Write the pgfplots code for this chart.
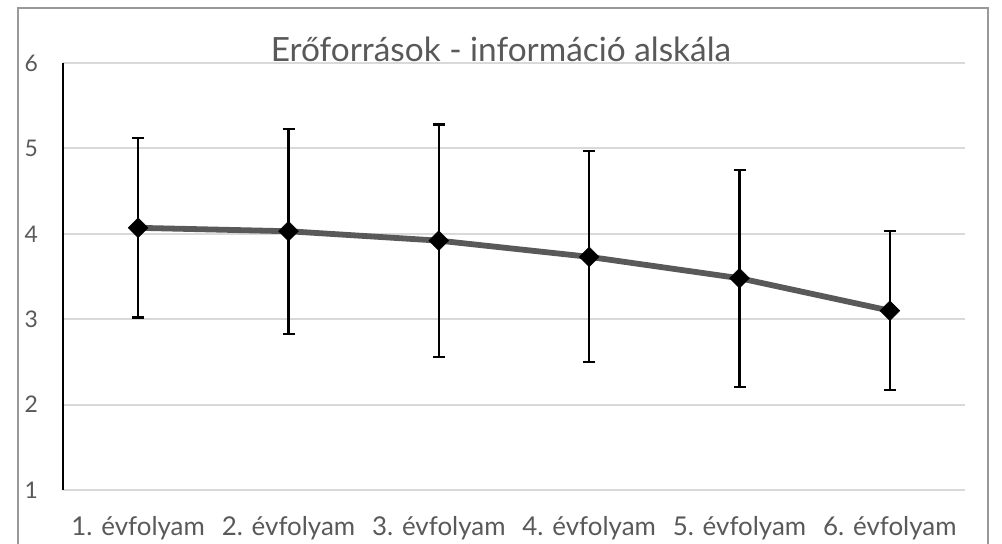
\documentclass[border=0pt]{standalone}
\usepackage{pgfplots}
\pgfplotsset{compat=1.18}
\usepackage{fontspec}
\setmainfont{Lato}
\definecolor{txt}{HTML}{595959}
\definecolor{gridc}{HTML}{D9D9D9}
\definecolor{ln}{HTML}{595959}
\definecolor{frame}{HTML}{999999}
\begin{document}
\begin{tikzpicture}
\begin{axis}[
  scale only axis, width=902bp, height=427bp,
  xmin=-0.5, xmax=5.5, ymin=1, ymax=6,
  xtick={0,1,2,3,4,5},
  xticklabels={1. évfolyam, 2. évfolyam, 3. évfolyam, 4. évfolyam, 5. évfolyam, 6. évfolyam},
  ytick={1,2,3,4,5,6},
  yticklabels={1,2,3,4,5,6},
  axis y line=left, axis x line=bottom,
  y axis line style={black, line width=1.8bp, -},
  x axis line style={gridc, line width=1.8bp, -},
  major tick length=0pt,
  ymajorgrids, grid style={gridc, line width=1.8bp},
  tick label style={text=txt, inner sep=0pt},
  yticklabel style={font=\fontsize{23}{27}\selectfont, xshift=-25bp},
  xticklabel style={font=\fontsize{26}{30}\selectfont, yshift=-26bp},
  clip=false,
]
\addplot[ln, line width=5.8bp, mark=square*, mark size=7bp,
  mark options={black, fill=black, rotate=45, line width=0.5bp},
  error bars/.cd, y dir=both, y explicit,
  error bar style={black, line width=2.2bp},
  error mark options={black, rotate=90, mark size=6bp, line width=2.2bp}]
coordinates {
  (0,4.07) +- (0,1.05)
  (1,4.03) +- (0,1.20)
  (2,3.92) +- (0,1.36)
  (3,3.73) +- (0,1.235)
  (4,3.48) +- (0,1.27)
  (5,3.10) +- (0,0.93)
};
\coordinate (bl) at (rel axis cs:-0.069845,-0.124122);
\coordinate (tr) at (rel axis cs:1.041020,1.147541);
\coordinate (tl) at (rel axis cs:-0.069845,1.147541);
\end{axis}
\begin{scope}[shift={(tl)}, x=1bp, y=-1bp]
\draw[frame, line width=2bp] (18,560) -- (18,8) -- (988,8) -- (988,560);
\node[anchor=base, text=txt, inner sep=0pt, font=\fontsize{33.5}{40}\selectfont] at (501,62) {Erőforrások - információ alskála};
\end{scope}
\pgfresetboundingbox
\useasboundingbox (bl) rectangle (tr);
\end{tikzpicture}
\end{document}
